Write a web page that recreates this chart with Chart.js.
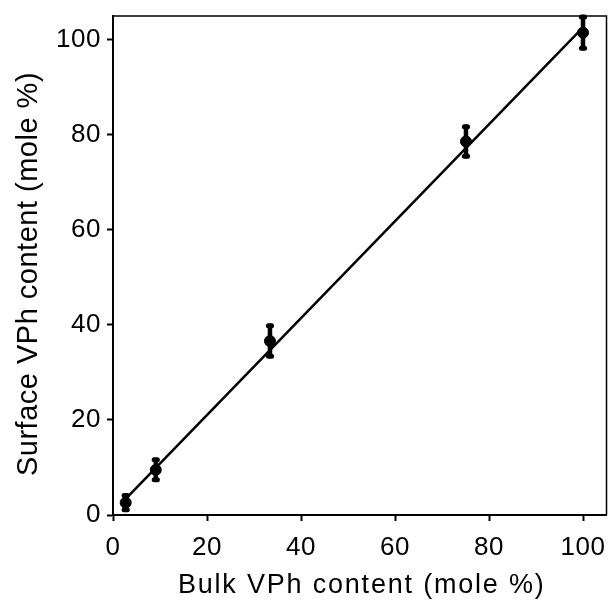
<!DOCTYPE html>
<html>
<head>
<meta charset="utf-8">
<script src="https://cdn.jsdelivr.net/npm/chart.js@4"></script>
<style>
  html, body { margin: 0; padding: 0; background: #fff; }
  #wrap { width: 613px; height: 601px; }
</style>
</head>
<body>
<div id="wrap"><canvas id="chart"></canvas></div>
<script>
// values
const bulk    = [2.7, 9.1, 33.4, 75.1, 100];
const surface = [2.6, 9.5, 36.6, 78.6, 101.5];
const errs    = [1.5, 2.1, 3.2, 3.1, 3.3];
// fitted line end points
const fitX = [2.7, 100];
const fitY = [3.4, 102.6];
const xTicks = [0, 20, 40, 60, 80, 100];
const yTicks = [0, 20, 40, 60, 80, 100];
const xTitle = 'Bulk VPh content (mole %)';
const yTitle = 'Surface VPh content (mole %)';

const FONT = "'Liberation Sans', Arial, Helvetica, sans-serif";

// the original lettering is a little wider than Arial
const spacing = {
  id: 'spacing',
  beforeLayout(chart){ chart.ctx.letterSpacing = '0.5px'; },
  beforeDraw(chart){ chart.ctx.letterSpacing = '0.5px'; }
};

// error bars with rounded caps
const errorBars = {
  id: 'errorBars',
  afterDatasetsDraw(chart){
    const ctx = chart.ctx, xs = chart.scales.x, ys = chart.scales.y;
    ctx.save();
    ctx.strokeStyle = '#000';
    ctx.lineCap = 'round';
    bulk.forEach((b, i)=>{
      const px = xs.getPixelForValue(b);
      const top = ys.getPixelForValue(surface[i] + errs[i]);
      const bot = ys.getPixelForValue(surface[i] - errs[i]);
      ctx.lineWidth = 4.5;
      ctx.beginPath(); ctx.moveTo(px, top); ctx.lineTo(px, bot); ctx.stroke();
      ctx.lineWidth = 5;
      ctx.beginPath(); ctx.moveTo(px-1.6, top); ctx.lineTo(px+1.6, top); ctx.stroke();
      ctx.beginPath(); ctx.moveTo(px-1.6, bot); ctx.lineTo(px+1.6, bot); ctx.stroke();
    });
    ctx.restore();
  }
};

// top and right frame lines + axis titles
const frame = {
  id: 'frame',
  afterDraw(chart){
    const a = chart.chartArea, ctx = chart.ctx;
    ctx.save();
    ctx.strokeStyle = '#000';
    ctx.lineWidth = 1.5;
    ctx.beginPath();
    ctx.moveTo(a.left, a.top); ctx.lineTo(a.right, a.top); ctx.lineTo(a.right, a.bottom);
    ctx.stroke();

    ctx.fillStyle = '#000';
    ctx.textAlign = 'center';
    ctx.textBaseline = 'alphabetic';
    ctx.font = '27px ' + FONT;
    ctx.letterSpacing = '1.8px';
    ctx.fillText(xTitle, (a.left + a.right) / 2 + 2, 593);

    ctx.font = '29px ' + FONT;
    ctx.letterSpacing = '0.5px';
    ctx.translate(36.5, 274);
    ctx.rotate(-Math.PI / 2);
    ctx.fillText(yTitle, 0, 0);
    ctx.restore();
  }
};

const ctx = document.getElementById('chart').getContext('2d');
new Chart(ctx, {
  type: 'scatter',
  data: {
    datasets: [
      {
        type: 'line',
        data: fitX.map((x,i)=>({x:x, y:fitY[i]})),
        borderColor: '#000',
        borderWidth: 2.5,
        pointRadius: 0,
        fill: false
      },
      {
        data: bulk.map((x,i)=>({x:x, y:surface[i]})),
        backgroundColor: '#000',
        borderColor: '#000',
        pointRadius: 5.5,
        showLine: false
      }
    ]
  },
  options: {
    responsive: true,
    maintainAspectRatio: false,
    animation: false,
    layout: { padding: { top: 16, right: 1, left: 0, bottom: 0 } },
    plugins: { legend: { display: false }, tooltip: { enabled: false } },
    scales: {
      x: {
        type: 'linear', min: 0, max: 105,
        afterBuildTicks: s => { s.ticks = xTicks.map(v=>({value:v})); },
        afterFit: s => { s.height = 86; s.paddingLeft = 0; s.paddingRight = 0; },
        grid: { drawOnChartArea: false, drawTicks: true, tickLength: 6, tickColor: '#000', tickWidth: 2 },
        border: { display: true, color: '#000', width: 2 },
        ticks: { color: '#000', padding: 11, maxRotation: 0, font: { family: FONT, size: 26 } }
      },
      y: {
        type: 'linear', min: 0, max: 105,
        afterBuildTicks: s => { s.ticks = yTicks.map(v=>({value:v})); },
        afterFit: s => { s.width = 113; s.paddingTop = 0; s.paddingBottom = 0; },
        grid: { drawOnChartArea: false, drawTicks: true, tickLength: 6, tickColor: '#000', tickWidth: 2 },
        border: { display: true, color: '#000', width: 2 },
        ticks: { color: '#000', padding: 6, font: { family: FONT, size: 26 } }
      }
    }
  },
  plugins: [spacing, errorBars, frame]
});
</script>
</body>
</html>
